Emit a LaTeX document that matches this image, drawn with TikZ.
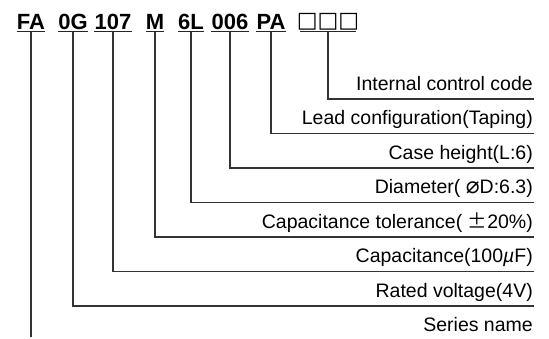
\documentclass[tikz,border=0pt]{standalone}
\usepackage{fontspec}
\setmainfont{Liberation Sans}
\newfontfamily\dejavu{DejaVu Sans}
\newfontfamily\cjkfont{Noto Sans CJK JP}
\begin{document}
\begin{tikzpicture}[x=1pt,y=-1pt,
  code/.style={font=\fontsize{22}{24}\selectfont\bfseries, inner sep=0pt, anchor=base},
  lbl/.style={font=\fontsize{19.5}{22}\selectfont, inner sep=0pt, anchor=base east},
  conn/.style={draw=black!80, line width=1.1pt},
  uline/.style={draw=black!85, line width=1.1pt}]
\useasboundingbox (0,0) rectangle (549,338);
% codes
\node[code] (c1) at (31,29) {FA};
\node[code] (c2) at (73,29) {0G};
\node[code] (c3) at (113,29) {107};
\node[code] (c4) at (155,29) {M};
\node[code] (c5) at (191,29) {6L};
\node[code] (c6) at (230,29) {006};
\node[code] (c7) at (271,29) {PA};
\node[code, font=\dejavu\fontsize{22}{22}\selectfont] (c8) at (328,27) {□□□};
% underlines
\foreach \c in {c1,c2,c3,c4,c5,c6,c7}
  \draw[uline] ([yshift=-2.5pt]\c.base west) -- ([yshift=-2.5pt]\c.base east);
\coordinate (u8a) at (300,31.5);
\coordinate (u8b) at (356,31.5);
\draw[uline] (u8a) -- (u8b);
\coordinate (u) at (0,31.5);
% line ends
\coordinate (e8) at (534,99);
\coordinate (e7) at (534,133.5);
\coordinate (e6) at (534,168);
\coordinate (e5) at (534,202.5);
\coordinate (e4) at (534,237);
\coordinate (e3) at (534,271.5);
\coordinate (e2) at (534,306);
\coordinate (e1) at (31,337);
% labels
\node[lbl] (t8) at (533,90) {Internal control code};
\node[lbl] (t7) at (533,124.5) {Lead configuration(Taping)};
\node[lbl] (t6) at (533,159) {Case height(L:6)};
\node[lbl] (t5) at (533,193.5) {Diameter( {\dejavu\fontsize{23}{23}\selectfont ⌀}D:6.3)};
\node[lbl] (t4) at (533,228) {Capacitance tolerance( {\cjkfont ±}20\%)};
\node[lbl] (t3) at (533,262.5) {Capacitance(100\textit{µ}F)};
\node[lbl] (t2) at (533,297) {Rated voltage(4V)};
\node[lbl] (t1) at (533,331.5) {Series name};
% connectors
\draw[conn] (c8 |- u) |- (e8);
\draw[conn] (c7 |- u) |- (e7);
\draw[conn] (c6 |- u) |- (e6);
\draw[conn] (c5 |- u) |- (e5);
\draw[conn] (c4 |- u) |- (e4);
\draw[conn] (c3 |- u) |- (e3);
\draw[conn] (c2 |- u) |- (e2);
\draw[conn] (c1 |- u) -- (e1);
\end{tikzpicture}
\end{document}
